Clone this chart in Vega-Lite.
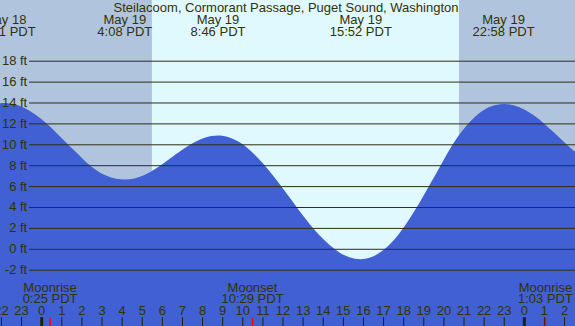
{
  "$schema": "https://vega.github.io/schema/vega-lite/v6.json",
  "width": 575,
  "height": 326,
  "padding": 0,
  "autosize": {"type": "none"},
  "background": "#b0c4de",
  "config": {"view": {"stroke": null}, "text": {"font": "Liberation Sans", "fontSize": 13, "color": "#333300"}},
  "datasets": {
    "sky": [
      {"start": -3, "end": 5.48, "kind": "night"},
      {"start": 5.48, "end": 20.75, "kind": "day"},
      {"start": 20.75, "end": 28, "kind": "night"}
    ],
    "tide": [
      {"t": -2.2, "ft": 13.95}, {"t": -1.82, "ft": 14.0}, {"t": -1.3, "ft": 13.86}, {"t": -0.8, "ft": 13.48},
      {"t": -0.3, "ft": 12.88}, {"t": 0.2, "ft": 12.11}, {"t": 0.7, "ft": 11.21}, {"t": 1.2, "ft": 10.25},
      {"t": 1.7, "ft": 9.3}, {"t": 2.2, "ft": 8.35}, {"t": 2.7, "ft": 7.6}, {"t": 3.2, "ft": 7.05},
      {"t": 3.7, "ft": 6.75}, {"t": 4.13, "ft": 6.68}, {"t": 4.6, "ft": 6.78}, {"t": 5.1, "ft": 7.12},
      {"t": 5.6, "ft": 7.64}, {"t": 6.1, "ft": 8.29}, {"t": 6.6, "ft": 8.99}, {"t": 7.1, "ft": 9.67},
      {"t": 7.6, "ft": 10.25}, {"t": 8.1, "ft": 10.67}, {"t": 8.77, "ft": 10.88}, {"t": 9.3, "ft": 10.72},
      {"t": 9.8, "ft": 10.28}, {"t": 10.3, "ft": 9.58}, {"t": 10.8, "ft": 8.65}, {"t": 11.3, "ft": 7.54},
      {"t": 11.8, "ft": 6.31}, {"t": 12.3, "ft": 5.02}, {"t": 12.8, "ft": 3.72}, {"t": 13.3, "ft": 2.48},
      {"t": 13.8, "ft": 1.36}, {"t": 14.3, "ft": 0.43}, {"t": 14.8, "ft": -0.3}, {"t": 15.3, "ft": -0.76},
      {"t": 15.87, "ft": -0.95}, {"t": 16.3, "ft": -0.82}, {"t": 16.8, "ft": -0.33}, {"t": 17.3, "ft": 0.47},
      {"t": 17.8, "ft": 1.57}, {"t": 18.3, "ft": 2.95}, {"t": 18.8, "ft": 4.5}, {"t": 19.3, "ft": 6.2},
      {"t": 19.8, "ft": 7.9}, {"t": 20.3, "ft": 9.6}, {"t": 20.8, "ft": 11.05}, {"t": 21.3, "ft": 12.2},
      {"t": 21.8, "ft": 13.1}, {"t": 22.3, "ft": 13.65}, {"t": 23.0, "ft": 13.9}, {"t": 23.5, "ft": 13.75},
      {"t": 24.0, "ft": 13.37}, {"t": 24.5, "ft": 12.77}, {"t": 25.0, "ft": 12.0}, {"t": 25.5, "ft": 11.13},
      {"t": 26.0, "ft": 10.23}, {"t": 26.6, "ft": 9.2}, {"t": 27.0, "ft": 8.6}
    ],
    "grid": [
      {"ft": 18, "label": "18 ft"}, {"ft": 16, "label": "16 ft"}, {"ft": 14, "label": "14 ft"},
      {"ft": 12, "label": "12 ft"}, {"ft": 10, "label": "10 ft"}, {"ft": 8, "label": "8 ft"},
      {"ft": 6, "label": "6 ft"}, {"ft": 4, "label": "4 ft"}, {"ft": 2, "label": "2 ft"},
      {"ft": 0, "label": "0 ft"}, {"ft": -2, "label": "-2 ft"}
    ],
    "extremes": [
      {"t": -1.82, "date": "May 18", "time": "22:11 PDT"},
      {"t": 4.133, "date": "May 19", "time": "4:08 PDT"},
      {"t": 8.767, "date": "May 19", "time": "8:46 PDT"},
      {"t": 15.867, "date": "May 19", "time": "15:52 PDT"},
      {"t": 22.967, "date": "May 19", "time": "22:58 PDT"}
    ],
    "moon": [
      {"t": 0.417, "event": "Moonrise", "time": "0:25 PDT"},
      {"t": 10.483, "event": "Moonset", "time": "10:29 PDT"},
      {"t": 25.05, "event": "Moonrise", "time": "1:03 PDT"}
    ],
    "hours": [
      {"t": -2, "label": "22"}, {"t": -1, "label": "23"}, {"t": 0, "label": "0"}, {"t": 1, "label": "1"},
      {"t": 2, "label": "2"}, {"t": 3, "label": "3"}, {"t": 4, "label": "4"}, {"t": 5, "label": "5"},
      {"t": 6, "label": "6"}, {"t": 7, "label": "7"}, {"t": 8, "label": "8"}, {"t": 9, "label": "9"},
      {"t": 10, "label": "10"}, {"t": 11, "label": "11"}, {"t": 12, "label": "12"}, {"t": 13, "label": "13"},
      {"t": 14, "label": "14"}, {"t": 15, "label": "15"}, {"t": 16, "label": "16"}, {"t": 17, "label": "17"},
      {"t": 18, "label": "18"}, {"t": 19, "label": "19"}, {"t": 20, "label": "20"}, {"t": 21, "label": "21"},
      {"t": 22, "label": "22"}, {"t": 23, "label": "23"}, {"t": 24, "label": "0"}, {"t": 25, "label": "1"},
      {"t": 26, "label": "2"}
    ],
    "title": [{"text": "Steilacoom, Cormorant Passage, Puget Sound, Washington"}]
  },
  "resolve": {"scale": {"x": "shared", "y": "shared"}},
  "layer": [
    {
      "data": {"name": "sky"},
      "mark": {"type": "rect"},
      "encoding": {
        "x": {"field": "start", "type": "quantitative", "scale": {"domain": [-2.0736, 26.519], "nice": false, "zero": false}, "axis": null},
        "x2": {"field": "end"},
        "y": {"datum": 23.856, "type": "quantitative", "scale": {"domain": [-7.34, 23.856], "nice": false, "zero": false}, "axis": null},
        "y2": {"datum": -7.34},
        "color": {"field": "kind", "type": "nominal", "scale": {"domain": ["night", "day"], "range": ["#b0c4de", "#e0f8ff"]}, "legend": null}
      }
    },
    {
      "data": {"name": "tide"},
      "mark": {"type": "area", "interpolate": "monotone", "color": "#4060d4"},
      "encoding": {
        "x": {"field": "t", "type": "quantitative"},
        "y": {"field": "ft", "type": "quantitative"},
        "y2": {"datum": -7.6}
      }
    },
    {
      "data": {"name": "grid"},
      "mark": {"type": "rule", "color": "#2e2e10", "strokeWidth": 1},
      "encoding": {
        "x": {"datum": -0.63, "type": "quantitative"},
        "x2": {"datum": 27},
        "y": {"field": "ft", "type": "quantitative"}
      }
    },
    {
      "data": {"name": "grid"},
      "mark": {"type": "text", "align": "right", "baseline": "middle"},
      "encoding": {
        "x": {"datum": -0.72, "type": "quantitative"},
        "y": {"field": "ft", "type": "quantitative"},
        "text": {"field": "label"}
      }
    },
    {
      "data": {"name": "title"},
      "mark": {"type": "text", "align": "center", "baseline": "middle"},
      "encoding": {
        "x": {"datum": 12.15, "type": "quantitative"},
        "y": {"datum": 23.12, "type": "quantitative"},
        "text": {"field": "text"}
      }
    },
    {
      "data": {"name": "extremes"},
      "mark": {"type": "text", "align": "center", "baseline": "middle"},
      "encoding": {
        "x": {"field": "t", "type": "quantitative"},
        "y": {"datum": 21.96, "type": "quantitative"},
        "text": {"field": "date"}
      }
    },
    {
      "data": {"name": "extremes"},
      "mark": {"type": "text", "align": "center", "baseline": "middle"},
      "encoding": {
        "x": {"field": "t", "type": "quantitative"},
        "y": {"datum": 20.83, "type": "quantitative"},
        "text": {"field": "time"}
      }
    },
    {
      "data": {"name": "moon"},
      "mark": {"type": "text", "align": "center", "baseline": "middle"},
      "encoding": {
        "x": {"field": "t", "type": "quantitative"},
        "y": {"datum": -3.67, "type": "quantitative"},
        "text": {"field": "event"}
      }
    },
    {
      "data": {"name": "moon"},
      "mark": {"type": "text", "align": "center", "baseline": "middle"},
      "encoding": {
        "x": {"field": "t", "type": "quantitative"},
        "y": {"datum": -4.8, "type": "quantitative"},
        "text": {"field": "time"}
      }
    },
    {
      "data": {"name": "hours"},
      "mark": {"type": "text", "align": "center", "baseline": "middle"},
      "encoding": {
        "x": {"field": "t", "type": "quantitative"},
        "y": {"datum": -5.9, "type": "quantitative"},
        "text": {"field": "label"}
      }
    },
    {
      "data": {"name": "hours"},
      "mark": {"type": "rule", "color": "#222200"},
      "encoding": {
        "x": {"field": "t", "type": "quantitative"},
        "y": {"datum": -6.5, "type": "quantitative"},
        "y2": {"datum": -7.6},
        "strokeWidth": {"condition": {"test": "datum.label == '0'", "value": 3}, "value": 1}
      }
    },
    {
      "data": {"name": "moon"},
      "mark": {"type": "rule", "color": "#ff0000", "strokeWidth": 1.5},
      "encoding": {
        "x": {"field": "t", "type": "quantitative"},
        "y": {"datum": -6.55, "type": "quantitative"},
        "y2": {"datum": -7.6}
      }
    }
  ]
}
